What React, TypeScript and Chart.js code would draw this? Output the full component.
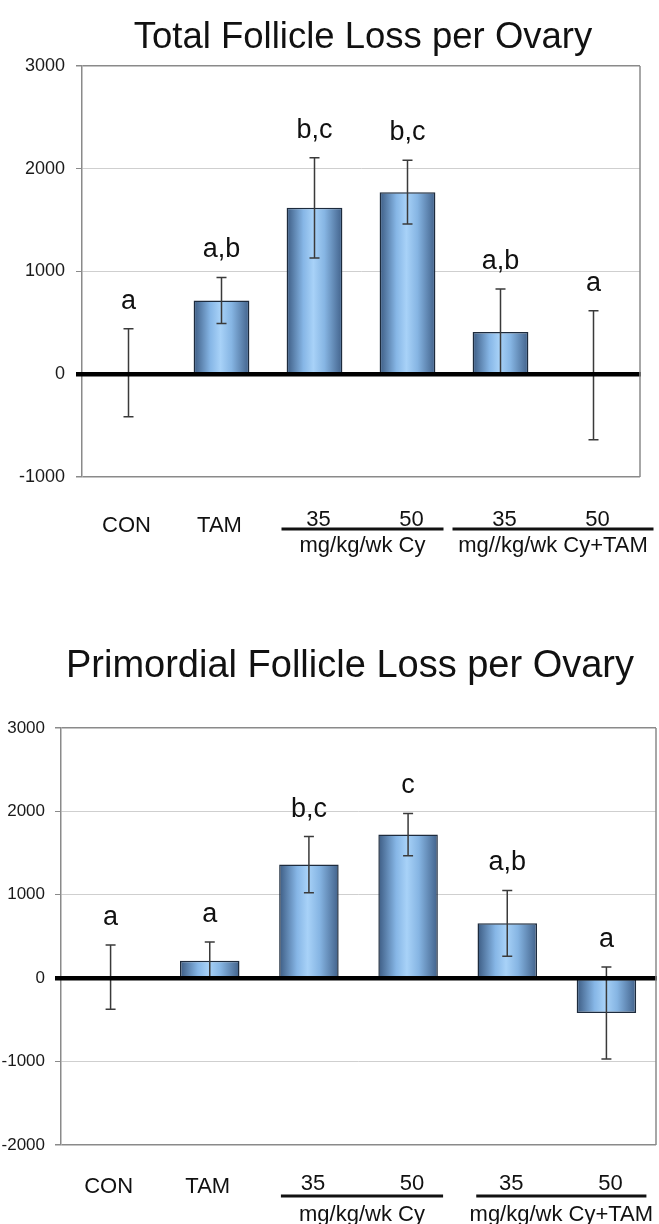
import React, { useEffect, useRef } from "react";
import { Chart, registerables } from "chart.js";

Chart.register(...registerables);

// ---------- data ----------
const categories = ["CON", "TAM", "35 Cy", "50 Cy", "35 Cy+TAM", "50 Cy+TAM"];
const tickLabels = ["CON", "TAM", "35", "50", "35", "50"];

const totalLoss = [15, 718, 1620, 1772, 410, -10];
const totalErr = [428, 224, 488, 310, 420, 628];
const totalLetters = ["a", "a,b", "b,c", "b,c", "a,b", "a"];
const totalGroupLabels = ["mg/kg/wk Cy", "mg//kg/wk Cy+TAM"];
const totalYTicks = [-1000, 0, 1000, 2000, 3000];

const primordialLoss = [12, 210, 1362, 1722, 658, -418];
const primordialErr = [385, 223, 337, 254, 395, 552];
const primordialLetters = ["a", "a", "b,c", "c", "a,b", "a"];
const primordialGroupLabels = ["mg/kg/wk Cy", "mg/kg/wk Cy+TAM"];
const primordialYTicks = [-2000, -1000, 0, 1000, 2000, 3000];

const FONT = "'Liberation Sans', Arial, Helvetica, sans-serif";
const PAGE_W = 659;

type Cfg = {
  title: string;
  titleX: number;
  titleBase: number;
  titleSize: number;
  values: number[];
  errors: number[];
  letters: string[];
  groups: string[];
  yTicks: number[];
  area: { left: number; top: number; right: number; bottom: number };
  canvasH: number;
  tickFont: number;
  tickPad: number;
  labelY: { cat: number; digit: number; line: number; group: number };
  underlines: number[][];
};

const topCfg: Cfg = {
  title: "Total Follicle Loss per Ovary",
  titleX: 363,
  titleBase: 48,
  titleSize: 36.5,
  values: totalLoss,
  errors: totalErr,
  letters: totalLetters,
  groups: totalGroupLabels,
  yTicks: totalYTicks,
  area: { left: 82, top: 66, right: 640, bottom: 477 },
  canvasH: 600,
  tickFont: 18,
  tickPad: 11,
  labelY: { cat: 532, digit: 526, line: 529, group: 552 },
  underlines: [
    [33, 36],
    [48, 60],
  ],
};

const bottomCfg: Cfg = {
  title: "Primordial Follicle Loss per Ovary",
  titleX: 350,
  titleBase: 77,
  titleSize: 38,
  values: primordialLoss,
  errors: primordialErr,
  letters: primordialLetters,
  groups: primordialGroupLabels,
  yTicks: primordialYTicks,
  area: { left: 61, top: 128, right: 656, bottom: 545 },
  canvasH: 624,
  tickFont: 17,
  tickPad: 10,
  labelY: { cat: 593, digit: 590, line: 596, group: 621 },
  underlines: [
    [28, 35],
    [31, 40],
  ],
};

function makeOverlay(cfg: Cfg) {
  return {
    id: "overlay",
    afterDatasetsDraw(chart: any) {
      const ctx = chart.ctx as CanvasRenderingContext2D;
      const xs = chart.scales.x;
      const ys = chart.scales.y;
      const area = chart.chartArea;
      ctx.save();

      // error bars
      ctx.strokeStyle = "#3a3a3a";
      ctx.lineWidth = 1.5;
      cfg.values.forEach((v, i) => {
        const x = xs.getPixelForValue(i);
        const yt = ys.getPixelForValue(v + cfg.errors[i]);
        const yb = ys.getPixelForValue(v - cfg.errors[i]);
        ctx.beginPath();
        ctx.moveTo(x, yt);
        ctx.lineTo(x, yb);
        ctx.moveTo(x - 5, yt);
        ctx.lineTo(x + 5, yt);
        ctx.moveTo(x - 5, yb);
        ctx.lineTo(x + 5, yb);
        ctx.stroke();
      });

      // zero line
      const y0 = ys.getPixelForValue(0);
      ctx.strokeStyle = "#000";
      ctx.lineWidth = 4.5;
      ctx.beginPath();
      ctx.moveTo(area.left - 6, y0);
      ctx.lineTo(area.right + 1, y0);
      ctx.stroke();

      // right border
      ctx.strokeStyle = "#8a8a8a";
      ctx.lineWidth = 1.5;
      ctx.beginPath();
      ctx.moveTo(area.right, area.top);
      ctx.lineTo(area.right, area.bottom);
      ctx.stroke();

      // significance letters
      ctx.fillStyle = "#111";
      ctx.textAlign = "center";
      ctx.textBaseline = "alphabetic";
      ctx.font = `27px ${FONT}`;
      cfg.letters.forEach((t, i) => {
        const x = xs.getPixelForValue(i);
        const yt = ys.getPixelForValue(cfg.values[i] + cfg.errors[i]);
        ctx.fillText(t, x, yt - 20);
      });

      // category labels
      ctx.font = `22px ${FONT}`;
      tickLabels.forEach((t, i) => {
        const x = xs.getPixelForValue(i);
        if (i < 2) ctx.fillText(t, x - 2, cfg.labelY.cat);
        else ctx.fillText(t, x + 4, cfg.labelY.digit);
      });

      // group underlines + labels
      cfg.groups.forEach((g, k) => {
        const a = xs.getPixelForValue(2 + k * 2);
        const b = xs.getPixelForValue(3 + k * 2);
        const x1 = a - cfg.underlines[k][0];
        const x2 = b + cfg.underlines[k][1];
        ctx.strokeStyle = "#111";
        ctx.lineWidth = 3;
        ctx.beginPath();
        ctx.moveTo(x1, cfg.labelY.line);
        ctx.lineTo(x2, cfg.labelY.line);
        ctx.stroke();
        ctx.fillText(g, (x1 + x2) / 2, cfg.labelY.group);
      });

      // title
      ctx.font = `${cfg.titleSize}px ${FONT}`;
      ctx.fillStyle = "#111";
      ctx.fillText(cfg.title, cfg.titleX, cfg.titleBase);

      ctx.restore();
    },
  };
}

function BarChart({ cfg }: { cfg: Cfg }) {
  const ref = useRef<HTMLCanvasElement>(null);
  useEffect(() => {
    if (!ref.current) return;
    const min = cfg.yTicks[0];
    const max = cfg.yTicks[cfg.yTicks.length - 1];
    const chart = new Chart(ref.current, {
      type: "bar",
      data: {
        labels: categories,
        datasets: [
          {
            data: cfg.values,
            barPercentage: 0.6,
            categoryPercentage: 1,
            borderColor: "#1d2b3d",
            borderWidth: 1.5,
            borderSkipped: false,
            backgroundColor: (c: any) => {
              const ch = c.chart;
              const xs = ch.scales && ch.scales.x;
              if (!xs || c.dataIndex === undefined || !ch.chartArea) return "#7fa9d6";
              const cx = xs.getPixelForValue(c.dataIndex);
              const w = (xs.width / categories.length) * 0.6;
              const g = ch.ctx.createLinearGradient(cx - w / 2, 0, cx + w / 2, 0);
              g.addColorStop(0, "#3c5b82");
              g.addColorStop(0.3, "#86b6e6");
              g.addColorStop(0.48, "#a8d2f8");
              g.addColorStop(0.68, "#86b5e3");
              g.addColorStop(1, "#41618a");
              return g;
            },
          },
        ],
      },
      options: {
        animation: false,
        responsive: false,
        devicePixelRatio: 1,
        layout: {
          padding: {
            left: 0,
            top: cfg.area.top,
            right: PAGE_W - cfg.area.right,
            bottom: cfg.canvasH - cfg.area.bottom,
          },
        },
        plugins: {
          legend: { display: false },
          tooltip: { enabled: false },
          title: { display: false },
        },
        scales: {
          x: {
            display: false,
            offset: true,
            grid: { display: false },
          },
          y: {
            min,
            max,
            afterFit: (s: any) => {
              s.width = cfg.area.left;
            },
            afterBuildTicks: (s: any) => {
              s.ticks = cfg.yTicks.map((v) => ({ value: v }));
            },
            ticks: {
              color: "#1a1a1a",
              font: { family: FONT, size: cfg.tickFont },
              padding: cfg.tickPad,
              callback: (v: any) => String(v),
            },
            grid: {
              color: (c: any) => {
                const v = c.tick && c.tick.value;
                if (v === min || v === max) return "#8a8a8a";
                return "#cfcfcf";
              },
              lineWidth: (c: any) => {
                const v = c.tick && c.tick.value;
                return v === min || v === max ? 1.5 : 1;
              },
              tickColor: "#8a8a8a",
              tickLength: 6,
              drawTicks: true,
            },
            border: { display: true, color: "#8a8a8a", width: 1.5 },
          },
        },
      },
      plugins: [makeOverlay(cfg)],
    } as any);
    return () => chart.destroy();
  }, [cfg]);
  return (
    <canvas
      ref={ref}
      width={PAGE_W}
      height={cfg.canvasH}
      style={{ display: "block", width: PAGE_W, height: cfg.canvasH }}
    />
  );
}

export default function App() {
  return (
    <div
      style={{
        position: "absolute",
        left: 0,
        top: 0,
        width: PAGE_W,
        height: 1224,
        overflow: "hidden",
        background: "#fff",
      }}
    >
      <BarChart cfg={topCfg} />
      <BarChart cfg={bottomCfg} />
    </div>
  );
}
